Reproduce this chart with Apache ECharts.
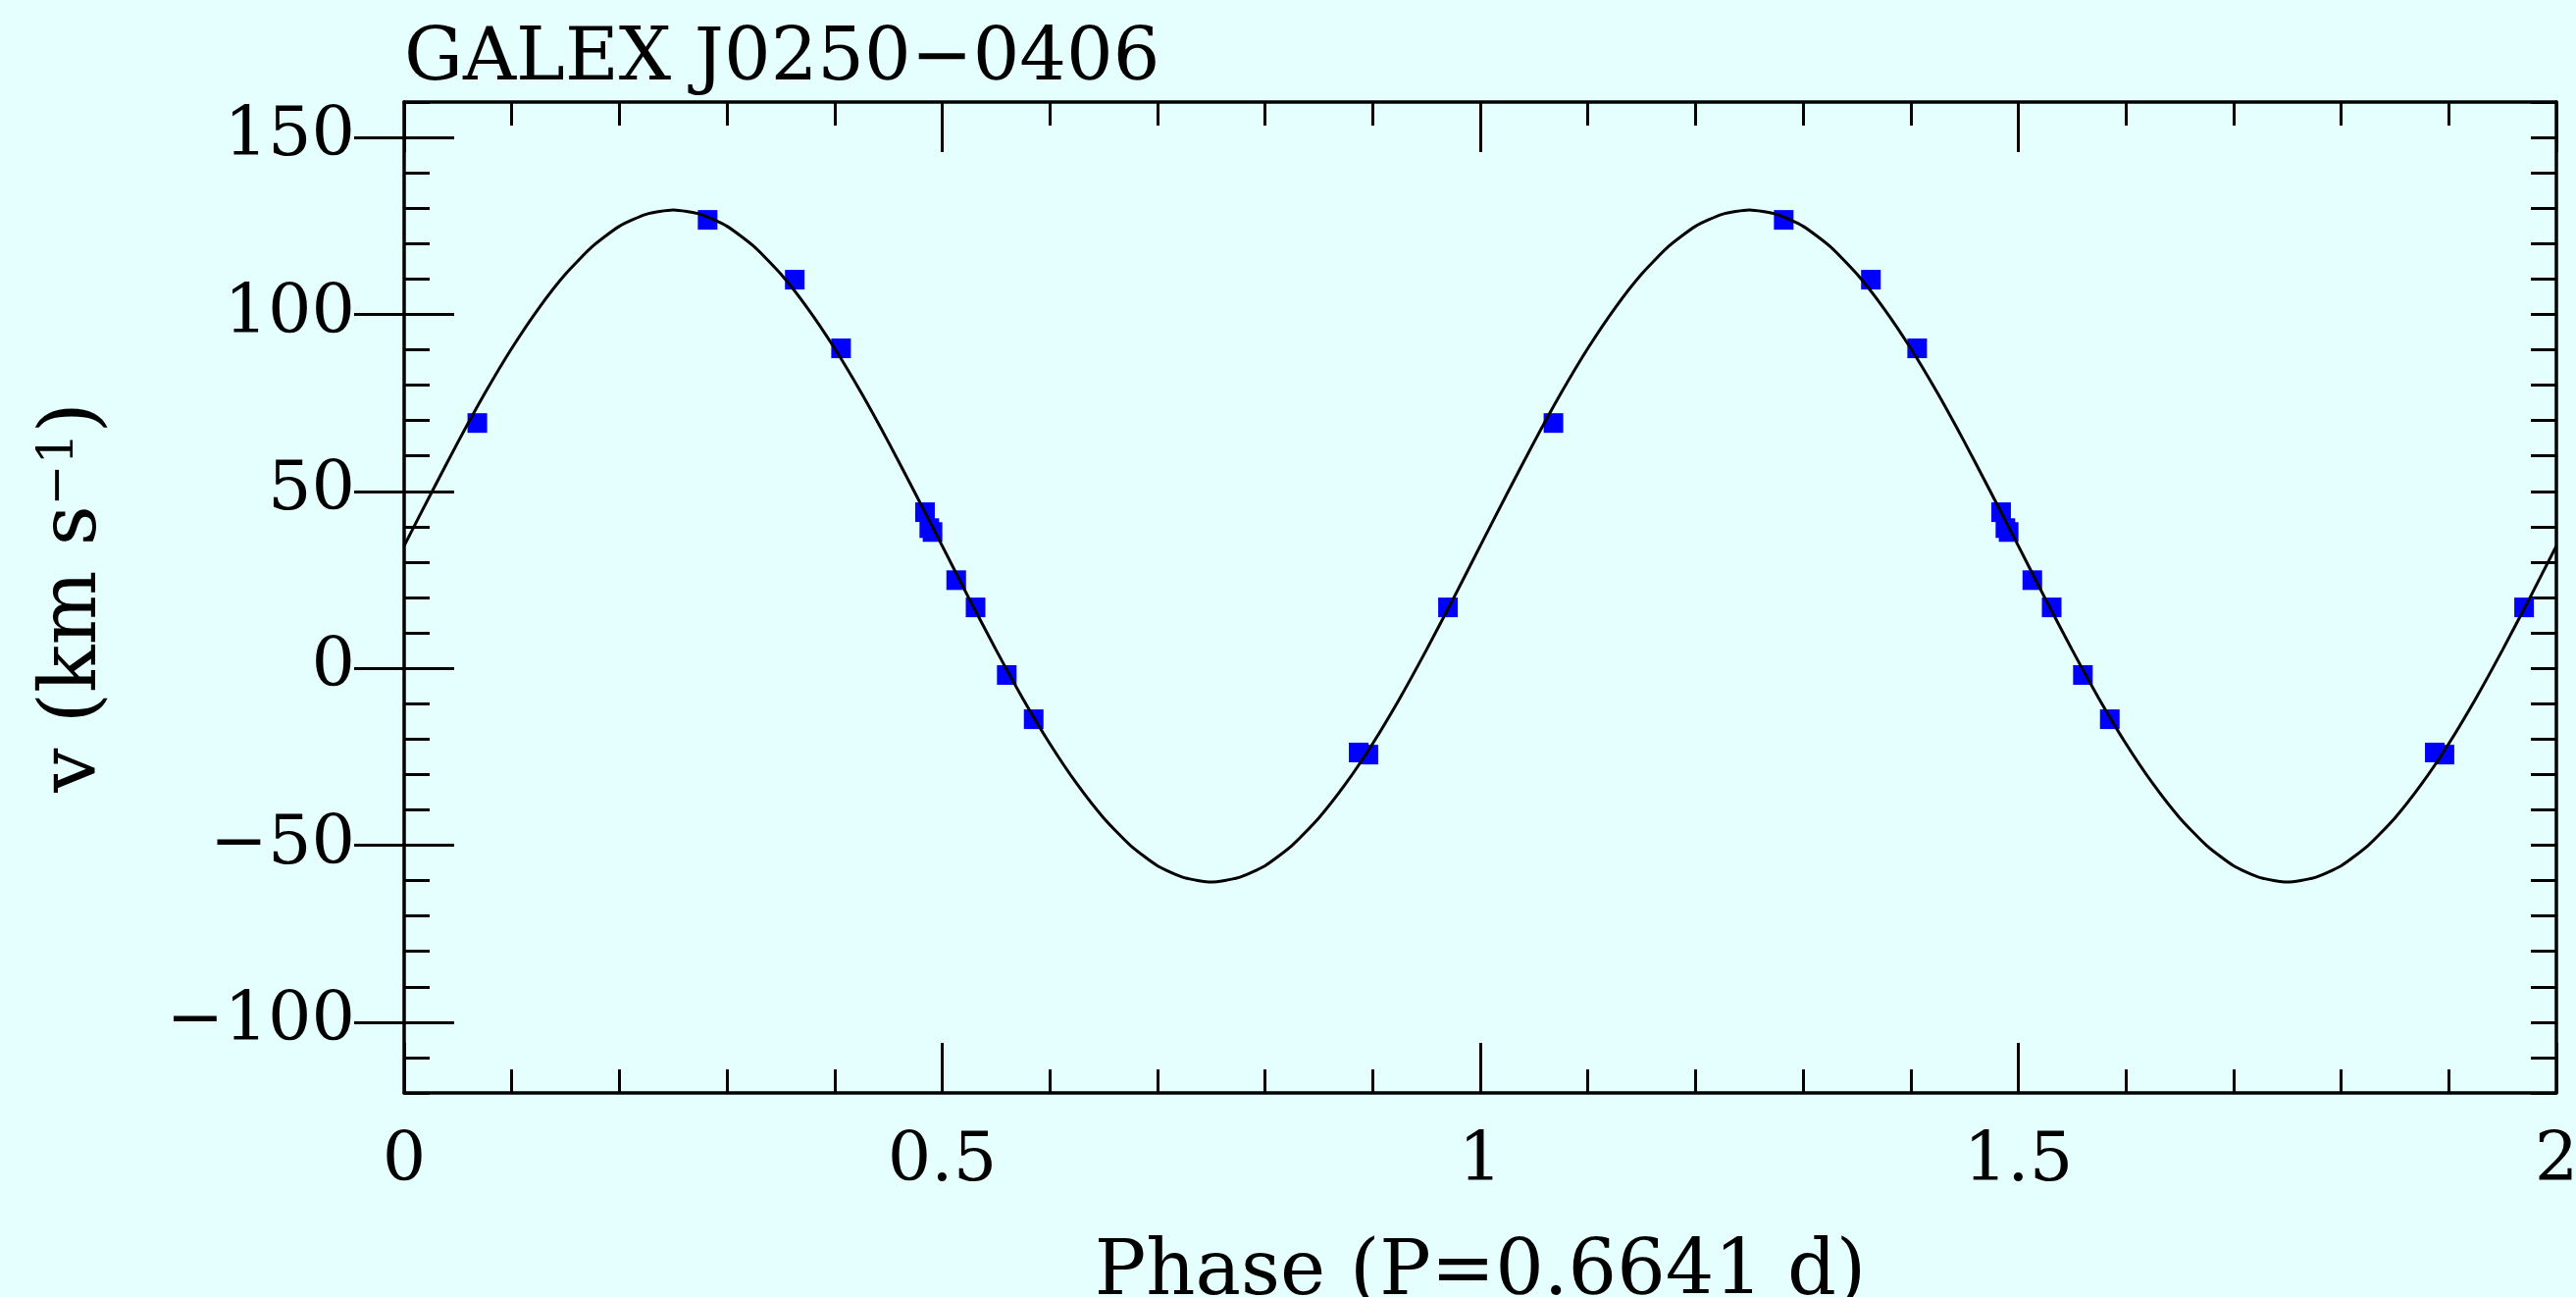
<!DOCTYPE html>
<html>
<head>
<meta charset="utf-8">
<title>GALEX J0250-0406</title>
<script src="https://cdn.jsdelivr.net/npm/echarts@6/dist/echarts.min.js"></script>
<style>
  html, body { margin: 0; padding: 0; background: #e5ffff; }
  #chart { width: 2626px; height: 1322px; }
</style>
</head>
<body>
<div id="chart"></div>
<script>
// measured radial velocities, one cycle (phase, km/s)
const obsPhase = [0.068, 0.282, 0.363, 0.406, 0.484, 0.488, 0.491, 0.513, 0.531, 0.560, 0.585, 0.887, 0.896, 0.970]
const obsVel = [69.3, 126.7, 109.8, 90.4, 44.1, 39.6, 38.5, 24.9, 17.2, -1.9, -14.4, -23.8, -24.4, 17.2]

// orbit fit, one cycle
const fitPhase = [
  0, 0.025, 0.05, 0.075, 0.1, 0.125, 0.15, 0.175, 0.2, 0.225,
  0.25, 0.275, 0.3, 0.325, 0.35, 0.375, 0.4, 0.425, 0.45, 0.475,
  0.5, 0.525, 0.55, 0.575, 0.6, 0.625, 0.65, 0.675, 0.7, 0.725,
  0.75, 0.775, 0.8, 0.825, 0.85, 0.875, 0.9, 0.925, 0.95, 0.975, 1
]
const fitVel = [
  34.6, 49.4, 63.9, 77.7, 90.4, 101.7, 111.4, 119.2, 124.9, 128.3,
  129.5, 128.3, 124.9, 119.2, 111.4, 101.7, 90.4, 77.7, 63.9, 49.4,
  34.6, 19.7, 5.2, -8.6, -21.3, -32.6, -42.3, -50.1, -55.8, -59.2,
  -60.4, -59.2, -55.8, -50.1, -42.3, -32.6, -21.3, -8.6, 5.2, 19.7, 34.6
]

// the phased data is plotted twice
const cycles = [0, 1]
const yMajor = [-100, -50, 0, 50, 100, 150]

const font = 'DejaVu Serif'
const minus = (v) => String(v).replace('-', '\u2212')

const obsData = cycles.flatMap((c) => obsPhase.map((p, i) => [p + c, obsVel[i]]))
const fitData = cycles.flatMap((c) => fitPhase.map((p, i) => [p + c, fitVel[i]]))

const axisLine = { show: true, onZero: false, lineStyle: { color: '#000', width: 3.5 } }
const tickStyle = { color: '#000', width: 3 }

const xBase = {
  type: 'value',
  min: 0,
  max: 2,
  interval: 0.5,
  splitLine: { show: false },
  axisLine: axisLine,
  axisTick: { inside: true, length: 51, lineStyle: tickStyle },
  minorTick: { show: true, splitNumber: 5, length: 24, lineStyle: tickStyle }
}

const yBase = {
  type: 'value',
  min: -120,
  max: 160,
  interval: 10,
  splitLine: { show: false },
  axisLabel: { show: false }
}

const chart = echarts.init(document.getElementById('chart'))

chart.setOption({
  animation: false,
  backgroundColor: '#e5ffff',
  title: {
    text: 'GALEX J0250\u22120406',
    left: 412,
    top: 24,
    padding: 0,
    textStyle: { fontFamily: font, fontSize: 75, fontWeight: 'normal', color: '#000' }
  },
  grid: { left: 412, right: 20, top: 104, bottom: 208, containLabel: false, outerBoundsMode: 'none' },
  xAxis: [
    {
      ...xBase,
      position: 'bottom',
      name: 'Phase (P=0.6641 d)',
      nameLocation: 'middle',
      nameGap: 146,
      nameTextStyle: { fontFamily: font, fontSize: 78, color: '#000' },
      axisLabel: {
        margin: 36,
        fontFamily: font,
        fontSize: 70,
        color: '#000',
        showMinLabel: true,
        showMaxLabel: true
      }
    },
    {
      ...xBase,
      position: 'top',
      axisLabel: { show: false }
    }
  ],
  yAxis: [
    {
      ...yBase,
      position: 'left',
      axisLine: axisLine,
      axisTick: { inside: true, length: 26, lineStyle: tickStyle },
      axisLabel: {
        show: true,
        customValues: yMajor,
        margin: 50,
        fontFamily: font,
        fontSize: 70,
        color: '#000',
        formatter: minus
      },
      name: '{a|v (km s}{s|\u22121}{a|)}',
      nameLocation: 'middle',
      nameRotate: 90,
      nameGap: 296,
      nameTextStyle: {
        rich: {
          a: { fontFamily: font, fontSize: 80, color: '#000' },
          s: { fontFamily: font, fontSize: 50, color: '#000', verticalAlign: 'top' }
        }
      }
    },
    {
      ...yBase,
      position: 'left',
      axisLine: { show: false },
      axisTick: { inside: true, length: 51, customValues: yMajor, lineStyle: tickStyle }
    },
    {
      ...yBase,
      position: 'right',
      axisLine: axisLine,
      axisTick: { inside: true, length: 26, lineStyle: tickStyle }
    },
    {
      ...yBase,
      position: 'right',
      axisLine: { show: false },
      axisTick: { inside: true, length: 51, customValues: yMajor, lineStyle: tickStyle }
    }
  ],
  series: [
    {
      name: 'observed',
      type: 'scatter',
      xAxisIndex: 0,
      yAxisIndex: 0,
      symbol: 'rect',
      symbolSize: 20,
      itemStyle: { color: '#0000ff', opacity: 1 },
      z: 2,
      data: obsData
    },
    {
      name: 'fit',
      type: 'line',
      xAxisIndex: 0,
      yAxisIndex: 0,
      showSymbol: false,
      smooth: 0.2,
      lineStyle: { color: '#000', width: 3 },
      z: 3,
      data: fitData
    }
  ]
})
</script>
</body>
</html>
